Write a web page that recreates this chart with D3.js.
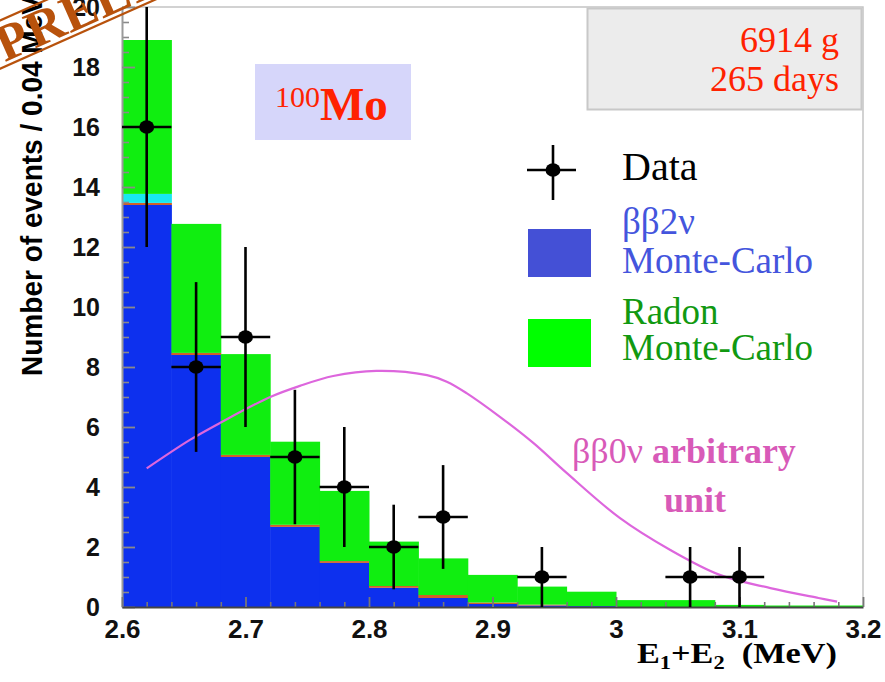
<!DOCTYPE html>
<html>
<head>
<meta charset="utf-8">
<script src="https://cdn.jsdelivr.net/npm/d3@7"></script>
<style>
  html, body { margin: 0; padding: 0; background: #ffffff; }
  svg { display: block; }
</style>
</head>
<body>
<svg id="chart" width="885" height="682"></svg>
<script>
// Histogram bins of summed electron energy (MeV), 0.04 MeV wide
const binEdges = [2.60, 2.64, 2.68, 2.72, 2.76, 2.80, 2.84, 2.88, 2.92, 2.96, 3.00, 3.04, 3.08, 3.12, 3.16, 3.20];

// Stacked Monte-Carlo components per bin (events / 0.04 MeV)
const bb2vMC   = [13.40, 8.40, 5.00, 2.67, 1.47, 0.64, 0.30, 0.10, 0.05, 0.03, 0.00, 0.00, 0.00, 0.00, 0.00];
const otherMC  = [0.07, 0.07, 0.07, 0.07, 0.06, 0.06, 0.10, 0.05, 0.03, 0.00, 0.00, 0.00, 0.00, 0.00, 0.00];
const cyanMC   = [0.30, 0.00, 0.00, 0.00, 0.00, 0.00, 0.00, 0.00, 0.00, 0.00, 0.00, 0.00, 0.00, 0.00, 0.00];
const radonMC  = [5.13, 4.30, 3.36, 2.77, 2.34, 1.48, 1.22, 0.92, 0.60, 0.48, 0.23, 0.23, 0.07, 0.05, 0.05];

// Observed events with statistical errors
const dataE   = [2.62, 2.66, 2.70, 2.74, 2.78, 2.82, 2.86, 2.94, 3.06, 3.10];
const dataN   = [16, 8, 9, 5, 4, 2, 3, 1, 1, 1];
const dataErr = [4.0, 2.83, 3.0, 2.24, 2.0, 1.41, 1.73, 1.0, 1.0, 1.0];

// Expected 0v double-beta peak shape (arbitrary normalisation)
const bb0vE = [2.62, 2.655, 2.68, 2.72, 2.744, 2.771, 2.806, 2.847, 2.863, 2.879, 2.906, 2.933, 2.96, 3.003, 3.044, 3.084, 3.125, 3.164, 3.179];
const bb0vY = [4.62, 5.57, 6.15, 7.00, 7.37, 7.70, 7.87, 7.73, 7.51, 7.13, 6.34, 5.47, 4.47, 2.97, 1.90, 1.07, 0.63, 0.30, 0.18];

// Axis ticks
const yMajorTicks = [0, 2, 4, 6, 8, 10, 12, 14, 16, 18, 20];
const xMajorTicks = [2.6, 2.7, 2.8, 2.9, 3.0, 3.1, 3.2];
const xTickLabels = ["2.6", "2.7", "2.8", "2.9", "3", "3.1", "3.2"];

const svg = d3.select("#chart");
const x = d3.scaleLinear().domain([2.6, 3.2]).range([122, 863]);
const y = d3.scaleLinear().domain([0, 20]).range([607, 7]);

const sans = "'Liberation Sans', Arial, Helvetica, sans-serif";
const serif = "'Liberation Serif', 'Times New Roman', Times, serif";

// Plot frame (top and right)
svg.append("path")
  .attr("d", `M${x(2.6)},${y(20)}H${x(3.2)}V${y(0)}`)
  .attr("fill", "none").attr("stroke", "#c4c4c4").attr("stroke-width", 1.5);

// Stacked histogram
const keys = ["bb2v", "other", "cyan", "radon"];
const colors = { bb2v: "#0d30ee", other: "#d0602a", cyan: "#18e8f0", radon: "#10ee10" };
const table = binEdges.slice(0, -1).map((lo, i) => ({
  lo: lo, hi: binEdges[i + 1],
  bb2v: bb2vMC[i], other: otherMC[i], cyan: cyanMC[i], radon: radonMC[i]
}));
const stacked = d3.stack().keys(keys)(table);
const hist = svg.append("g");
stacked.forEach(layer => {
  hist.append("g").selectAll("rect")
    .data(layer.filter(d => d[1] > d[0]))
    .join("rect")
    .attr("x", d => x(d.data.lo))
    .attr("width", d => x(d.data.hi) - x(d.data.lo) + 0.5)
    .attr("y", d => y(d[1]))
    .attr("height", d => y(d[0]) - y(d[1]))
    .attr("fill", colors[layer.key]);
});

// Y axis: major and minor ticks pointing into the plot
const yMinor = d3.range(0, 20.01, 0.5).filter(v => Math.abs(v % 2) > 1e-6);
svg.append("g")
  .attr("transform", `translate(${x(2.6)},0)`)
  .call(d3.axisLeft(y).tickValues(yMinor).tickSize(-7).tickFormat(""))
  .call(g => g.select(".domain").remove())
  .call(g => g.selectAll("line").attr("stroke", "#8a8a8a").attr("stroke-width", 1.6));
svg.append("g")
  .attr("transform", `translate(${x(2.6)},0)`)
  .call(d3.axisLeft(y).tickValues(yMajorTicks).tickSizeInner(-13).tickSizeOuter(0).tickPadding(22).tickFormat(d3.format("d")))
  .call(g => g.select(".domain").attr("stroke", "#9a9a9a").attr("stroke-width", 2))
  .call(g => g.selectAll("line").attr("stroke", "#8a8a8a").attr("stroke-width", 1.8))
  .call(g => g.selectAll("text").attr("font-family", sans).attr("font-weight", "bold")
      .attr("font-size", 25).attr("fill", "#111"));

// X axis: major and minor ticks pointing up
const xMinor = d3.range(0, 31).map(i => 2.6 + i * 0.02).filter(v => Math.abs(Math.round(v * 10) - v * 10) > 1e-6);
svg.append("g")
  .attr("transform", `translate(0,${y(0)})`)
  .call(d3.axisBottom(x).tickValues(xMinor).tickSize(-5).tickFormat(""))
  .call(g => g.select(".domain").remove())
  .call(g => g.selectAll("line").attr("stroke", "#777").attr("stroke-width", 1.6));
svg.append("g")
  .attr("transform", `translate(0,${y(0)})`)
  .call(d3.axisBottom(x).tickValues(xMajorTicks).tickSizeInner(-10).tickSizeOuter(0).tickPadding(13)
        .tickFormat((d, i) => xTickLabels[i]))
  .call(g => g.select(".domain").attr("stroke", "#444").attr("stroke-width", 2))
  .call(g => g.selectAll("line").attr("stroke", "#777").attr("stroke-width", 1.8))
  .call(g => g.selectAll("text").attr("font-family", sans).attr("font-weight", "bold")
      .attr("font-size", 26).attr("fill", "#111"));

// 0v double-beta expectation
svg.append("path")
  .datum(bb0vE.map((e, i) => [e, bb0vY[i]]))
  .attr("d", d3.line().x(d => x(d[0])).y(d => y(d[1])).curve(d3.curveCatmullRom.alpha(0.5)))
  .attr("fill", "none").attr("stroke", "#dd66dd").attr("stroke-width", 2.2);

// Data points with error bars
const pts = svg.append("g").selectAll("g")
  .data(dataE.map((e, i) => ({ e: e, n: dataN[i], err: dataErr[i] })))
  .join("g");
pts.append("line")
  .attr("x1", d => x(d.e - 0.02)).attr("x2", d => x(d.e + 0.02))
  .attr("y1", d => y(d.n)).attr("y2", d => y(d.n))
  .attr("stroke", "#000").attr("stroke-width", 2.6);
pts.append("line")
  .attr("x1", d => x(d.e)).attr("x2", d => x(d.e))
  .attr("y1", d => y(Math.max(0, d.n - d.err))).attr("y2", d => y(Math.min(20, d.n + d.err)))
  .attr("stroke", "#000").attr("stroke-width", 2.6);
pts.append("ellipse")
  .attr("cx", d => x(d.e)).attr("cy", d => y(d.n))
  .attr("rx", 7.5).attr("ry", 6.8).attr("fill", "#000");

// Axis titles
svg.append("text")
  .attr("transform", "translate(42,376) rotate(-90)")
  .attr("font-family", sans).attr("font-weight", "bold").attr("font-size", 29).attr("fill", "#000")
  .attr("textLength", 380).attr("lengthAdjust", "spacingAndGlyphs")
  .text("Number of events / 0.04 MeV");

const xt = svg.append("text")
  .attr("x", 637).attr("y", 663)
  .attr("font-family", serif).attr("font-weight", "bold").attr("font-size", 29).attr("fill", "#000")
  .attr("textLength", 200).attr("lengthAdjust", "spacingAndGlyphs");
xt.append("tspan").text("E");
xt.append("tspan").attr("font-size", 19).attr("dy", 6).text("1");
xt.append("tspan").attr("dy", -6).text("+E");
xt.append("tspan").attr("font-size", 19).attr("dy", 6).text("2");
xt.append("tspan").attr("dy", -6).text("\u00a0\u00a0(MeV)");

// Isotope label
svg.append("rect").attr("x", 255).attr("y", 64).attr("width", 156).attr("height", 76).attr("fill", "#d6d6fa");
const iso = svg.append("text").attr("x", 275).attr("y", 120).attr("font-family", serif).attr("fill", "#ff2200");
iso.append("tspan").attr("font-size", 30).attr("dy", -13).text("100");
iso.append("tspan").attr("font-size", 47).attr("font-weight", "bold").attr("dy", 13).text("Mo");

// Exposure box
svg.append("rect").attr("x", 587.5).attr("y", 8.5).attr("width", 274).attr("height", 101)
  .attr("fill", "#ececec").attr("stroke", "#c8c8c8").attr("stroke-width", 2);
svg.append("text").attr("x", 839).attr("y", 52).attr("text-anchor", "end")
  .attr("font-family", serif).attr("font-size", 36).attr("fill", "#ff2200").text("6914 g");
svg.append("text").attr("x", 839).attr("y", 91).attr("text-anchor", "end")
  .attr("font-family", serif).attr("font-size", 36).attr("fill", "#ff2200").text("265 days");

// Legend
const lg = svg.append("g");
lg.append("line").attr("x1", 527).attr("x2", 576).attr("y1", 170).attr("y2", 170).attr("stroke", "#000").attr("stroke-width", 2.6);
lg.append("line").attr("x1", 553).attr("x2", 553).attr("y1", 145).attr("y2", 200).attr("stroke", "#000").attr("stroke-width", 2.6);
lg.append("ellipse").attr("cx", 553).attr("cy", 170).attr("rx", 7.5).attr("ry", 6.8).attr("fill", "#000");
lg.append("text").attr("x", 622).attr("y", 180).attr("font-family", serif).attr("font-size", 40).attr("fill", "#000").text("Data");
lg.append("rect").attr("x", 528).attr("y", 229).attr("width", 63).attr("height", 48).attr("fill", "#4450d6");
lg.append("text").attr("x", 622).attr("y", 234).attr("font-family", serif).attr("font-size", 37).attr("fill", "#4455dd").text("ββ2ν");
lg.append("text").attr("x", 622).attr("y", 273).attr("font-family", serif).attr("font-size", 37).attr("fill", "#4455dd").text("Monte-Carlo");
lg.append("rect").attr("x", 528).attr("y", 319).attr("width", 63).attr("height", 48).attr("fill", "#00ff00");
lg.append("text").attr("x", 622).attr("y", 324).attr("font-family", serif).attr("font-size", 37).attr("fill", "#119911").text("Radon");
lg.append("text").attr("x", 622).attr("y", 360).attr("font-family", serif).attr("font-size", 37).attr("fill", "#119911").text("Monte-Carlo");

// 0v curve annotation
const ann = svg.append("text").attr("x", 572).attr("y", 463).attr("font-family", serif).attr("font-size", 36).attr("fill", "#d85ab8");
ann.append("tspan").text("ββ0ν");
ann.append("tspan").attr("font-weight", "bold").text(" arbitrary");
svg.append("text").attr("x", 695).attr("y", 512).attr("text-anchor", "middle")
  .attr("font-family", serif).attr("font-weight", "bold").attr("font-size", 36).attr("fill", "#d85ab8").text("unit");

// Preliminary stamp
const stamp = svg.append("g").attr("transform", "translate(3,63) rotate(-24)").attr("fill", "#b8520c").attr("stroke", "#b8520c");
stamp.append("line").attr("x1", -40).attr("x2", 600).attr("y1", 4).attr("y2", 4).attr("stroke-width", 2.2);
stamp.append("line").attr("x1", -40).attr("x2", 600).attr("y1", -40).attr("y2", -40).attr("stroke-width", 2.2);
stamp.append("text").attr("x", 2).attr("y", 0).attr("stroke", "none")
  .attr("font-family", serif).attr("font-weight", "bold").attr("font-size", 52).attr("letter-spacing", 1)
  .text("PRELIMINARY");
</script>
</body>
</html>
